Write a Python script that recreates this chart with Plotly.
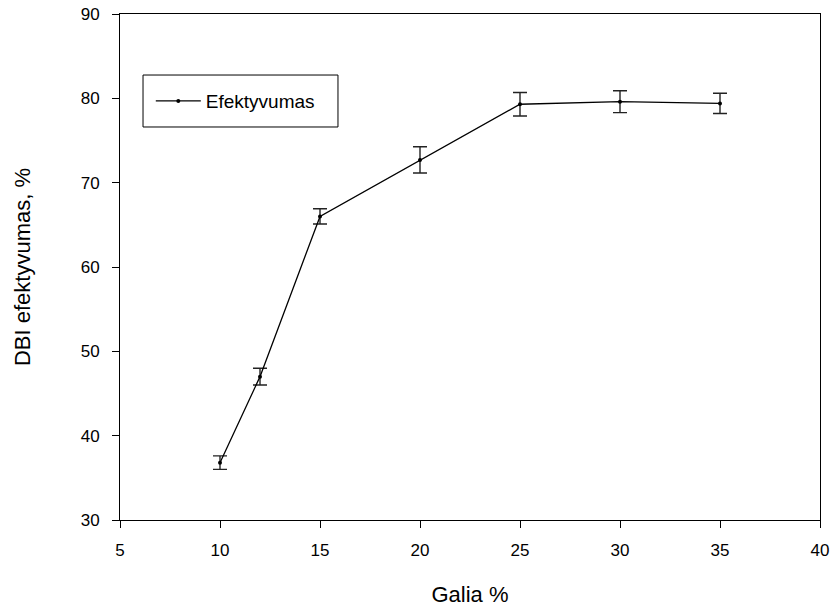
import plotly.graph_objects as go

galia = [10, 12, 15, 20, 25, 30, 35]
efektyvumas = [36.8, 47.0, 66.0, 72.7, 79.3, 79.6, 79.4]
paklaida = [0.8, 1.0, 0.9, 1.55, 1.4, 1.3, 1.2]

x_ticks = [5, 10, 15, 20, 25, 30, 35, 40]
y_ticks = [30, 40, 50, 60, 70, 80, 90]

font_family = "Liberation Sans, Arial, sans-serif"

fig = go.Figure()
fig.add_trace(go.Scatter(
    x=galia, y=efektyvumas,
    mode="lines+markers",
    name="Efektyvumas",
    line=dict(color="black", width=1.3),
    marker=dict(color="black", size=4),
    error_y=dict(type="data", array=paklaida, visible=True, color="#222222",
                 thickness=1.4, width=7),
))

axis_common = dict(
    showline=True, linecolor="black", linewidth=1, mirror=True,
    ticks="outside", ticklen=7, tickcolor="black", tickwidth=1,
    showgrid=False, zeroline=False, automargin=False,
    tickfont=dict(family=font_family, size=17, color="black"),
)

fig.update_layout(
    width=835, height=607,
    margin=dict(l=120, r=15, t=14, b=87),
    paper_bgcolor="white", plot_bgcolor="white",
    font=dict(family=font_family, color="black"),
    xaxis=dict(range=[5, 40], tickvals=x_ticks, ticklabelstandoff=8,
               title=dict(text="Galia %", font=dict(size=22), standoff=28),
               **axis_common),
    yaxis=dict(range=[30, 90], tickvals=y_ticks, ticklabelstandoff=9,
               title=dict(text="DBI efektyvumas, %", font=dict(size=22), standoff=43),
               **axis_common),
    showlegend=True,
    legend=dict(x=0.044, y=0.828, xanchor="left", yanchor="middle",
                borderwidth=0, bgcolor="rgba(0,0,0,0)",
                font=dict(size=19, family=font_family, color="black"),
                itemwidth=45),
    shapes=[dict(type="rect", xref="paper", yref="paper",
                 x0=0.0329, x1=0.3114, y0=0.7767, y1=0.8794,
                 line=dict(color="black", width=1), fillcolor="rgba(0,0,0,0)")],
)

fig.write_html("out.html")
